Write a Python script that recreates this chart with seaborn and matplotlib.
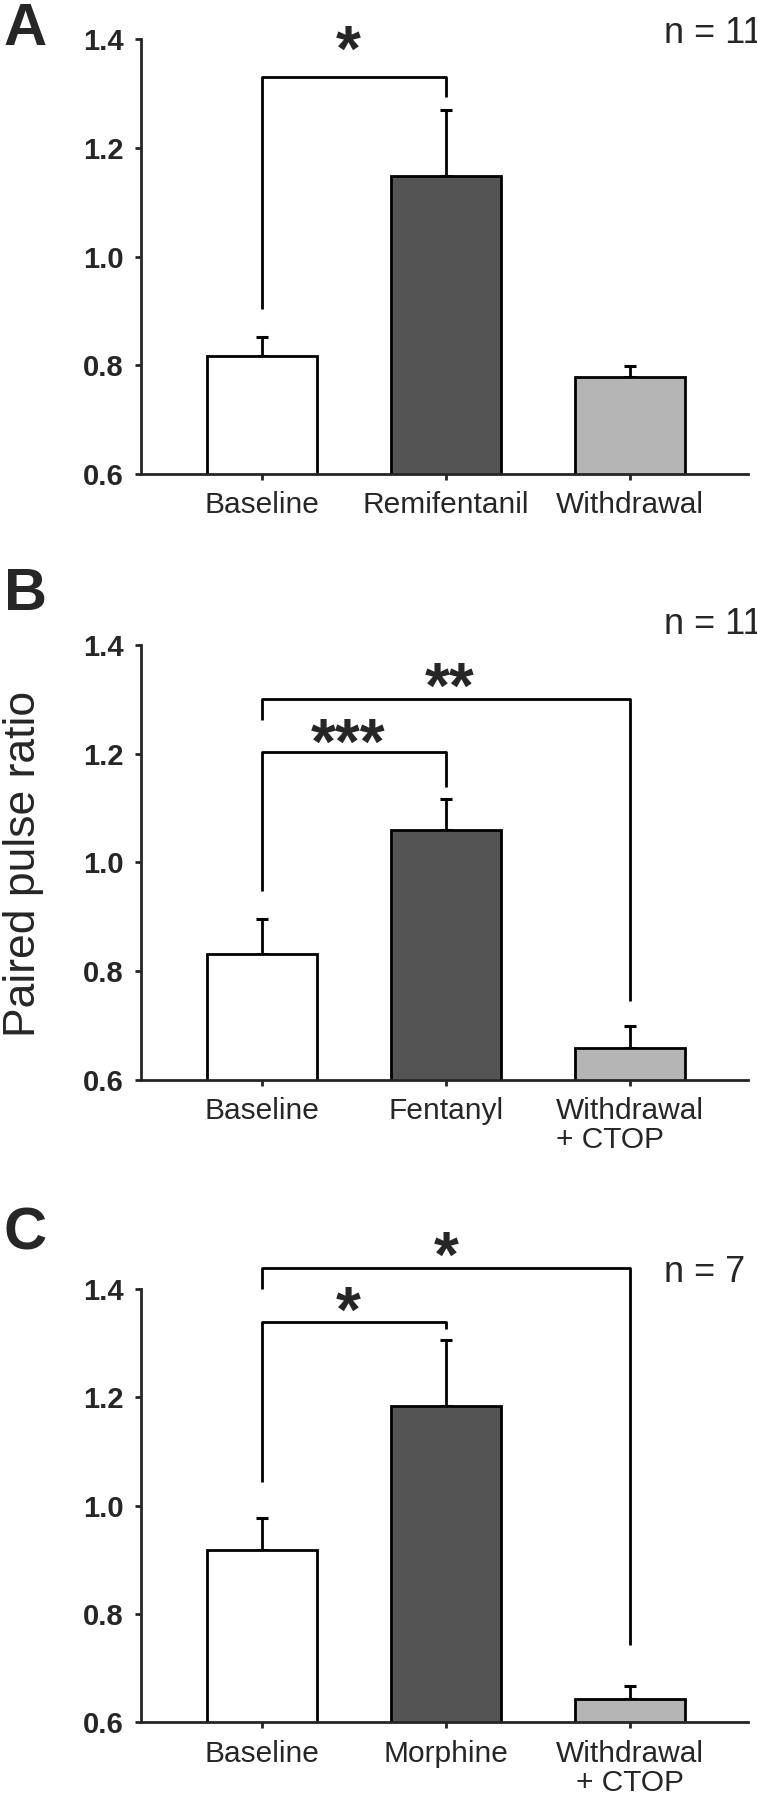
import numpy as np
import pandas as pd
import matplotlib
matplotlib.use("Agg")
import matplotlib.pyplot as plt
import seaborn as sns

# values (paired pulse ratio, mean + SEM)
labels_a = ["Baseline", "Remifentanil", "Withdrawal"]
means_a = [0.818, 1.149, 0.778]
sems_a = [0.034, 0.121, 0.021]

labels_b = ["Baseline", "Fentanyl", "Withdrawal\n+ CTOP"]
means_b = [0.831, 1.060, 0.658]
sems_b = [0.065, 0.057, 0.041]

labels_c = ["Baseline", "Morphine", "Withdrawal\n+ CTOP"]
means_c = [0.918, 1.184, 0.644]
sems_c = [0.060, 0.121, 0.024]

bar_colors = ["#ffffff", "#545454", "#b5b5b5"]
n_texts = ["n = 11", "n = 11", "n = 7"]
panel_letters = ["A", "B", "C"]

# significance brackets: (left bar, right bar, height, left leg end, right leg end, stars, star x, star y)
brackets_a = [(0, 1, 1.331, 0.903, 1.294, "*", 0.47, 1.401)]
brackets_b = [(0, 2, 1.301, 1.262, 0.745, "**", 1.02, 1.343),
              (0, 1, 1.203, 0.948, 1.139, "***", 0.47, 1.240)]
brackets_c = [(0, 2, 1.439, 1.400, 0.743, "*", 1.00, 1.481),
              (0, 1, 1.339, 1.044, 1.327, "*", 0.47, 1.380)]

sns.set_style("ticks")
plt.rcParams["font.family"] = ["Liberation Sans", "DejaVu Sans"]

fig = plt.figure(figsize=(7.57, 18), dpi=100)

panels = [
    (labels_a, means_a, sems_a, brackets_a, [0.1863, 0.7367, 0.8019, 0.2414], 0.975, 1.394, "center"),
    (labels_b, means_b, sems_b, brackets_b, [0.1863, 0.4000, 0.8019, 0.2417], 0.6611, 1.420, "left"),
    (labels_c, means_c, sems_c, brackets_c, [0.1863, 0.0431, 0.8019, 0.2408], 0.3056, 1.413, "center"),
]

star_fs = 46

for i, (labels, means, sems, brackets, pos, letter_y, n_y, malign) in enumerate(panels):
    ax = fig.add_axes(pos)
    df = pd.DataFrame({"cond": labels, "ppr": means})
    sns.barplot(data=df, x="cond", y="ppr", hue="cond", palette=bar_colors,
                legend=False, width=0.6, edgecolor="black", linewidth=2,
                errorbar=None, ax=ax, zorder=3)
    ax.errorbar(np.arange(len(means)), means, yerr=[np.zeros(len(sems)), sems],
                fmt="none", ecolor="black", elinewidth=2, capsize=4.3, capthick=2.2,
                zorder=2)

    ax.set_ylim(0.6, 1.4)
    ax.set_xlim(-0.658, 2.641)
    ax.set_yticks([0.6, 0.8, 1.0, 1.2, 1.4])
    ax.set_yticklabels(["0.6", "0.8", "1.0", "1.2", "1.4"])
    ax.set_xlabel("")
    ax.set_ylabel("")
    sns.despine(ax=ax)
    for sp in ["left", "bottom"]:
        ax.spines[sp].set_linewidth(2)
        ax.spines[sp].set_zorder(4)
    ax.tick_params(axis="y", direction="out", length=4.5, width=2, pad=8, labelsize=21)
    ax.tick_params(axis="x", direction="out", length=4.5, width=2, pad=8, labelsize=21.5)
    for t in ax.get_yticklabels():
        t.set_fontweight("bold")
    for t in ax.get_xticklabels():
        t.set_multialignment(malign)
        t.set_linespacing(1.05)

    for (b1, b2, h, l1, l2, stars, sx, sy) in brackets:
        ax.plot([b1, b1, b2, b2], [l1, h, h, l2], color="black", lw=2,
                clip_on=False, solid_capstyle="butt")
        # put the visual centre of the asterisks at (sx, sy)
        ax.annotate(stars, (sx, sy), xytext=(0, -0.5 * star_fs),
                    textcoords="offset points", ha="center", va="baseline",
                    fontsize=star_fs, fontweight="bold", annotation_clip=False)

    ax.text(2.185, n_y, n_texts[i], ha="left", va="baseline", fontsize=26,
            clip_on=False)
    fig.text(0.005, letter_y, panel_letters[i], ha="left", va="baseline",
             fontsize=43, fontweight="bold")

fig.text(0.031, 0.52, "Paired pulse ratio", rotation=90, ha="center", va="center",
         fontsize=32)

fig.savefig("out.png", dpi=100)
